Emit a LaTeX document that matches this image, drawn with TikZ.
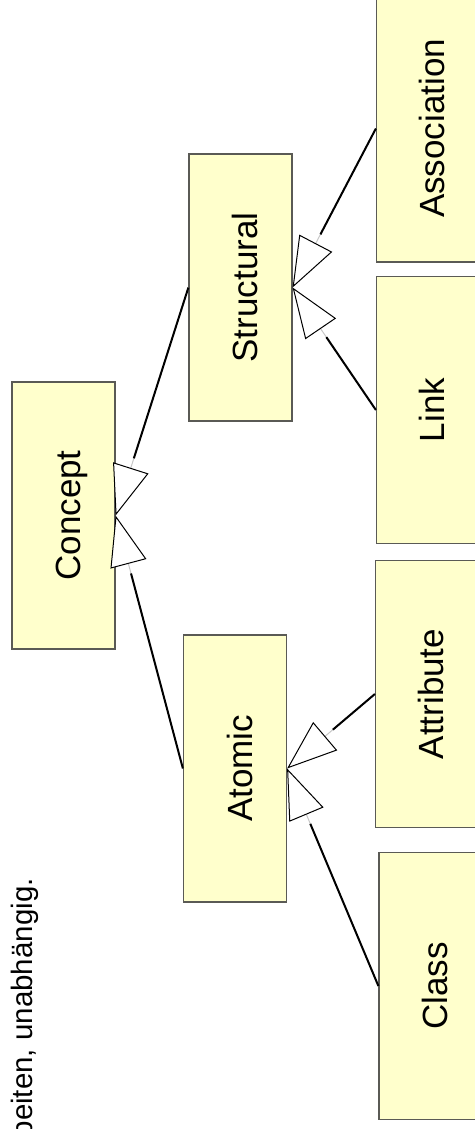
\documentclass[tikz,border=0pt]{standalone}
\usepackage{fontspec}
\setmainfont{Liberation Sans}
\usetikzlibrary{arrows.meta}
\definecolor{boxfill}{HTML}{FFFFCC}
\definecolor{boxline}{HTML}{5A5A55}
\tikzset{
  box/.style={draw=boxline, line width=1.2pt, fill=boxfill, minimum width=103pt, minimum height=267pt, inner sep=0pt},
  lbl/.style={rotate=90, anchor=base, font=\fontsize{35}{40}\selectfont, inner sep=0pt},
  captxt/.style={rotate=90, anchor=base east, font=\fontsize{29.5}{34}\selectfont, inner sep=0pt},
  genbase/.style={draw=black!22, line width=1pt, -{Triangle[length=50pt, width=37pt, fill=white, color=black, line width=1pt]}},
  genline/.style={draw=black, line width=2pt, shorten >=60pt},
}
\begin{document}
\begin{tikzpicture}[x=1pt,y=-1pt]
\useasboundingbox (0,0) rectangle (474,1129);
% caption fragment
\node[captxt] (cap) at (32,878) {beiten, unabhängig.};
% boxes
\node[box] (concept) at (63.5,515.5) {};
\node[box] (structural) at (240.5,287.5) {};
\node[box] (atomic) at (235,768.5) {};
\node[box] (association) at (428,128.5) {};
\node[box] (link) at (428,410) {};
\node[box] (attribute) at (427,694) {};
\node[box] (class) at (430.5,986) {};
% labels
\node[lbl] (conceptL) at ([xshift=16.5pt]concept.center) {Concept};
\node[lbl] (structuralL) at ([xshift=16.5pt]structural.center) {Structural};
\node[lbl] (atomicL) at ([xshift=17pt]atomic.center) {Atomic};
\node[lbl] (associationL) at ([xshift=16.5pt]association.center) {Association};
\node[lbl] (linkL) at ([xshift=16.5pt]link.center) {Link};
\node[lbl] (attributeL) at ([xshift=16.5pt]attribute.center) {Attribute};
\node[lbl] (classL) at ([xshift=17pt]class.center) {Class};
% generalizations
\foreach \c/\p in {structural/concept, atomic/concept, association/structural, link/structural, attribute/atomic, class/atomic}{
  \draw[genbase] (\c.west) -- (\p.east);
  \draw[genline] (\c.west) -- (\p.east);
}
\end{tikzpicture}
\end{document}
